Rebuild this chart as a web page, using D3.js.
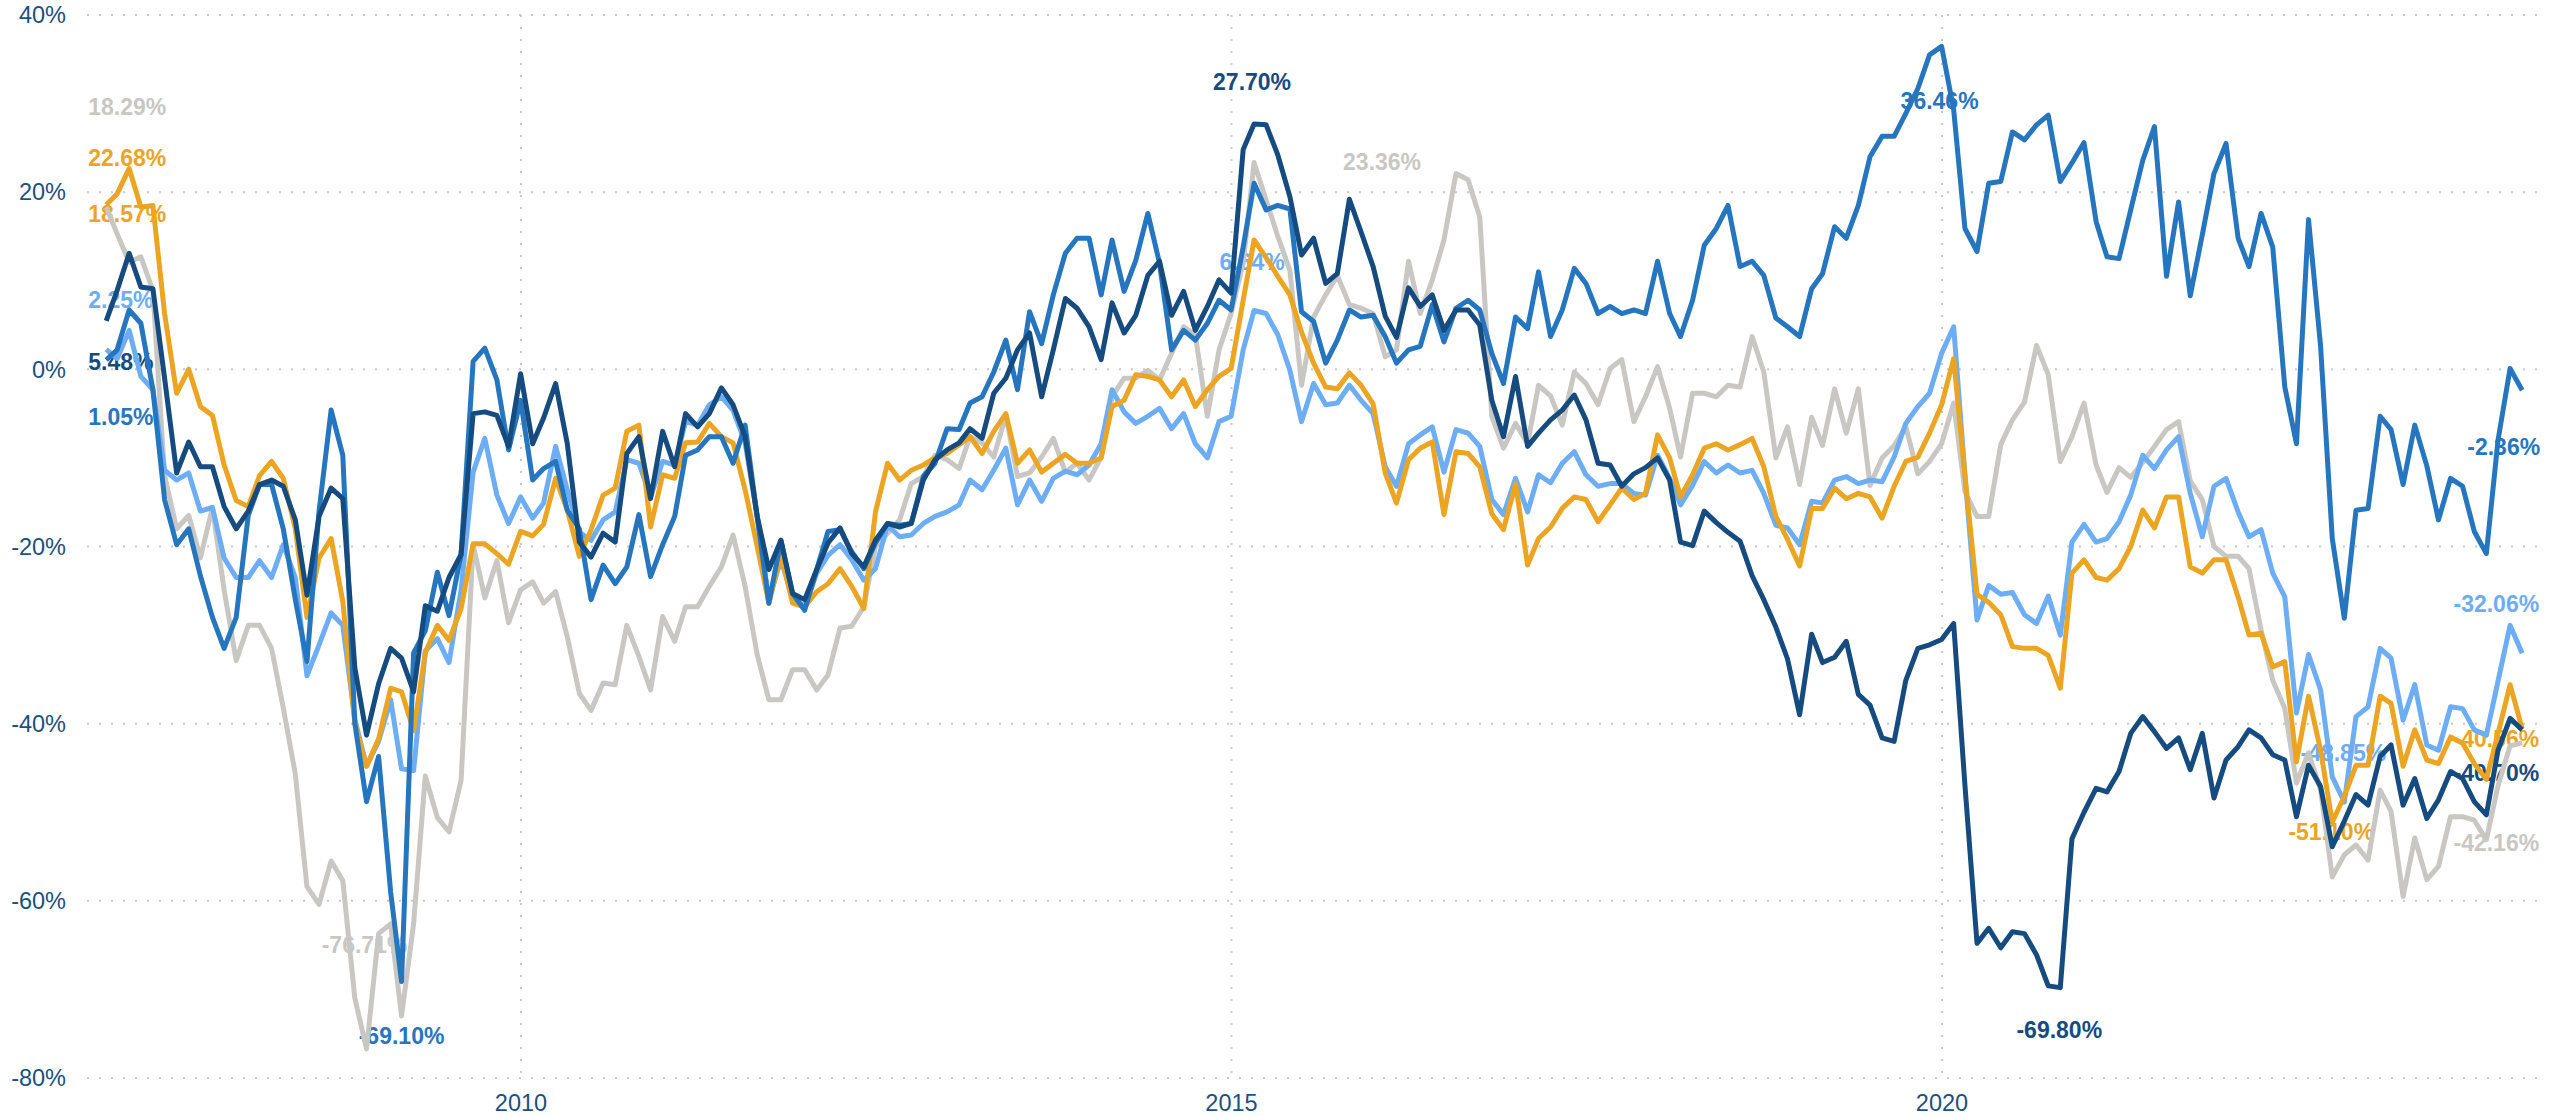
<!DOCTYPE html>
<html>
<head>
<meta charset="utf-8">
<script src="https://cdn.jsdelivr.net/npm/d3@7"></script>
<style>
  html, body { margin: 0; padding: 0; background: #fff; }
  svg text { font-family: "Liberation Sans", Arial, sans-serif; }
</style>
</head>
<body>
<svg id="chart" width="2562" height="1116"></svg>
<script>
// monthly values (%), one per month end, Jan 2007 .. Jan 2024
var firstMonth = new Date(2007, 0, 31);

var navy = [
  5.48, 8.9, 13.1, 9.3, 9.1, -1.0, -11.7, -8.2, -11.0, -11.0,
  -15.5, -18.0, -16.0, -13.0, -12.5, -13.2, -17.0, -25.5, -16.6, -13.4,
  -14.6, -33.7, -41.3, -35.5, -31.5, -32.6, -36.4, -26.7, -27.3, -23.5,
  -20.9, -5.0, -4.8, -5.2, -8.7, -0.5, -8.4, -5.5, -1.6, -8.4,
  -19.5, -21.2, -18.5, -19.5, -9.5, -7.6, -14.6, -7.0, -11.0, -5.0,
  -6.5, -5.0, -2.1, -4.0, -7.6, -16.6, -22.6, -19.3, -25.3, -26.0,
  -22.6, -19.6, -17.9, -20.8, -22.3, -19.3, -17.4, -17.8, -17.4, -12.5,
  -10.2, -9.1, -8.3, -6.7, -7.8, -2.7, -1.0, 2.2, 4.1, -3.1,
  2.2, 8.0, 6.9, 4.8, 1.1, 7.5, 4.1, 6.1, 10.6, 12.2,
  6.1, 8.8, 4.4, 7.1, 10.1, 8.6, 24.8, 27.7, 27.6, 24.2,
  19.5, 12.9, 14.8, 9.7, 10.8, 19.2, 15.5, 11.6, 6.0, 3.6,
  9.2, 7.1, 8.4, 4.4, 6.7, 6.7, 5.0, -3.5, -7.6, -0.8,
  -8.7, -7.2, -5.7, -4.6, -2.9, -5.7, -10.6, -10.8, -13.2, -11.8,
  -11.1, -10.0, -12.5, -19.5, -19.9, -16.0, -17.3, -18.4, -19.4, -23.3,
  -26.0, -29.1, -32.7, -39.0, -29.9, -33.1, -32.5, -30.7, -36.7, -37.9,
  -41.6, -42.0, -35.1, -31.5, -31.1, -30.5, -28.7, -47.0, -64.8, -63.1,
  -65.3, -63.5, -63.7, -66.1, -69.6, -69.8, -53.0, -50.0, -47.3, -47.7,
  -45.4, -41.1, -39.2, -40.9, -42.8, -41.6, -45.2, -41.1, -48.4, -44.1,
  -42.6, -40.7, -41.6, -43.5, -44.1, -50.5, -44.7, -47.1, -53.9, -51.0,
  -48.0, -49.2, -43.7, -42.4, -49.2, -46.2, -50.7, -48.6, -45.4, -46.2,
  -48.8, -50.3, -43.0, -39.4, -40.7
];

var blue = [
  1.05, 2.2, 6.7, 5.2, -2.3, -14.7, -19.8, -18.0, -23.3, -28.0,
  -31.5, -28.0, -16.5, -13.0, -13.0, -18.0, -26.0, -33.0, -16.0, -4.6,
  -9.7, -40.0, -48.8, -43.7, -59.0, -69.1, -32.0, -29.5, -22.9, -27.8,
  -20.9, 0.9, 2.4, -1.2, -9.1, -3.5, -12.5, -11.2, -10.4, -15.9,
  -18.0, -26.0, -22.1, -24.2, -22.3, -16.4, -23.4, -19.8, -16.6, -9.7,
  -9.1, -7.6, -7.6, -10.6, -6.3, -16.6, -26.4, -19.3, -25.3, -27.2,
  -22.6, -18.3, -18.1, -20.6, -22.5, -19.6, -17.4, -17.6, -17.4, -12.1,
  -10.6, -6.7, -6.8, -3.8, -3.1, -0.3, 3.3, -2.3, 6.5, 2.9,
  8.4, 13.1, 14.8, 14.8, 8.4, 14.6, 8.8, 12.3, 17.6, 12.0,
  2.2, 4.4, 3.3, 5.2, 7.8, 6.7, 13.8, 21.0, 18.0, 18.5,
  18.1, 6.5, 5.4, 0.7, 3.3, 6.7, 5.9, 6.1, 3.7, 0.7,
  2.2, 2.6, 7.3, 3.1, 6.9, 7.8, 6.7, 1.8, -1.6, 5.9,
  4.6, 11.0, 3.7, 6.7, 11.4, 9.7, 6.3, 7.1, 6.3, 6.7,
  6.3, 12.2, 6.3, 3.7, 7.8, 14.0, 15.9, 18.5, 11.6, 12.2,
  10.6, 5.8, 4.8, 3.7, 9.1, 10.8, 16.1, 14.8, 18.5, 24.0,
  26.3, 26.3, 28.9, 31.7, 35.5, 36.46, 29.3, 15.9, 13.3, 21.0,
  21.2, 26.8, 25.9, 27.6, 28.7, 21.2, 23.3, 25.6, 16.7, 12.7,
  12.5, 18.0, 23.6, 27.4, 10.5, 18.9, 8.3, 15.2, 22.1, 25.5,
  14.8, 11.6, 17.6, 13.8, -2.0, -8.4, 16.9, 2.6, -19.1, -28.1,
  -15.9, -15.7, -5.3, -6.8, -13.0, -6.3, -10.9, -17.0, -12.3, -13.2,
  -18.3, -20.8, -8.0, 0.1, -2.36
];

var lightBlue = [
  2.25, 1.2, 4.4, -0.8, -2.3, -11.4, -12.5, -11.7, -16.0, -15.6,
  -21.3, -23.5, -23.5, -21.6, -23.5, -19.8, -23.5, -34.6, -31.1, -27.5,
  -28.9, -39.5, -44.8, -42.0, -37.3, -45.1, -45.3, -31.8, -30.4, -33.1,
  -24.9, -11.6, -7.8, -14.2, -17.4, -14.4, -16.8, -15.1, -8.7, -13.6,
  -18.4, -19.3, -17.0, -16.1, -10.2, -10.6, -14.4, -10.4, -10.8, -5.9,
  -6.3, -4.0, -3.1, -4.6, -8.3, -16.6, -26.0, -21.5, -25.7, -26.8,
  -23.0, -21.0, -19.8, -21.5, -23.8, -22.5, -17.6, -18.9, -18.7, -17.4,
  -16.6, -16.1, -15.3, -12.5, -13.6, -11.4, -8.9, -15.3, -12.5, -14.9,
  -12.3, -11.5, -11.9, -10.8, -8.4, -2.3, -4.8, -6.1, -5.3, -4.4,
  -6.7, -5.0, -8.4, -10.0, -5.9, -5.3, 2.2, 6.64, 6.3, 3.9,
  -0.1, -5.9, -1.6, -4.0, -3.8, -1.8, -3.5, -5.0, -11.0, -13.2,
  -8.4, -7.4, -6.5, -11.6, -6.8, -7.2, -8.7, -14.7, -16.4, -12.3,
  -16.1, -11.9, -12.8, -10.6, -9.3, -11.9, -13.2, -12.9, -12.9, -14.0,
  -14.2, -9.7, -12.3, -15.3, -13.1, -10.4, -11.7, -10.8, -11.7, -11.4,
  -14.0, -17.6, -17.9, -19.8, -14.9, -15.1, -12.5, -12.1, -12.9, -12.5,
  -12.7, -9.9, -6.1, -4.2, -2.7, 1.8, 4.8, -12.0, -28.3, -24.4,
  -25.4, -25.2, -27.7, -28.7, -25.6, -30.0, -19.5, -17.5, -19.5, -19.1,
  -17.2, -14.2, -9.7, -11.2, -9.1, -7.6, -14.0, -18.9, -13.2, -12.3,
  -16.1, -18.9, -18.1, -23.0, -25.7, -38.8, -32.2, -36.2, -46.0, -48.85,
  -39.2, -38.1, -31.5, -32.6, -39.6, -35.6, -42.4, -43.0, -38.1, -38.3,
  -40.7, -41.3, -35.2, -28.9, -32.06
];

var orange = [
  18.57, 19.8, 22.68, 18.3, 18.5, 6.3, -2.7, 0.0, -4.2, -5.2,
  -10.8, -14.8, -15.5, -12.0, -10.4, -12.3, -18.0, -28.0, -21.3, -19.1,
  -26.2, -40.0, -44.8, -41.7, -36.0, -36.4, -40.8, -32.0, -28.9, -30.6,
  -27.0, -19.7, -19.7, -20.8, -22.0, -18.3, -18.8, -17.5, -12.3, -15.9,
  -21.1, -18.1, -14.2, -13.4, -7.0, -6.3, -17.8, -11.9, -12.3, -8.3,
  -8.2, -6.1, -7.6, -8.3, -13.6, -20.0, -26.4, -21.0, -26.4, -26.8,
  -25.1, -24.2, -22.5, -24.5, -27.0, -16.1, -10.6, -12.5, -11.4, -10.8,
  -10.0, -9.5, -8.5, -7.6, -9.5, -7.0, -5.0, -10.6, -9.1, -11.6,
  -10.6, -9.6, -10.6, -10.6, -10.0, -4.2, -3.5, -0.6, -0.8, -1.2,
  -3.1, -1.2, -4.2, -2.3, -0.8, 0.1, 7.8, 14.6, 12.6, 10.5,
  8.4, 4.2, 0.7, -2.0, -2.2, -0.4, -1.8, -3.9, -11.7, -15.1,
  -10.2, -8.9, -8.2, -16.4, -9.3, -9.5, -11.0, -16.3, -18.1, -12.9,
  -22.1, -19.1, -17.8, -15.7, -14.4, -14.7, -17.2, -15.3, -13.4, -14.7,
  -14.0, -7.4, -10.0, -14.4, -11.9, -8.9, -8.4, -9.1, -8.5, -7.8,
  -11.0, -16.6, -19.2, -22.2, -15.7, -15.7, -13.4, -14.6, -14.0, -14.4,
  -16.8, -13.2, -10.4, -9.9, -7.2, -4.0, 1.2, -12.0, -25.4, -26.3,
  -27.7, -31.3, -31.5, -31.5, -32.3, -36.0, -23.0, -21.5, -23.5, -23.8,
  -22.5, -20.0, -15.9, -17.9, -14.4, -14.4, -22.3, -23.0, -21.5, -21.5,
  -25.7, -30.0, -29.8, -33.6, -33.0, -44.3, -36.9, -43.0, -51.1, -48.2,
  -44.7, -44.7, -36.9, -37.7, -44.8, -40.7, -44.1, -44.5, -41.5, -42.2,
  -44.5, -46.3, -41.1, -35.6, -40.56
];

var gray = [
  18.29, 15.3, 12.1, 12.7, 8.9, -12.0, -18.0, -16.5, -21.3, -15.6,
  -24.9, -32.9, -28.9, -28.9, -31.5, -38.2, -45.7, -58.4, -60.4, -55.5,
  -57.7, -71.0, -76.71, -63.7, -62.6, -73.0, -62.6, -45.9, -50.6, -52.2,
  -46.4, -19.8, -25.8, -21.6, -28.6, -24.9, -24.0, -26.4, -25.1, -30.2,
  -36.6, -38.5, -35.4, -35.6, -28.9, -32.4, -36.2, -27.9, -30.7, -26.8,
  -26.8, -24.5, -22.3, -18.7, -24.5, -32.2, -37.3, -37.3, -33.9, -33.9,
  -36.2, -34.5, -29.2, -29.0, -26.8, -20.0, -18.5, -17.0, -12.9, -12.1,
  -9.7, -10.2, -11.2, -7.6, -8.3, -9.9, -5.2, -12.1, -11.7, -9.9,
  -7.8, -11.6, -10.6, -12.5, -9.9, -3.1, -1.0, -1.0, -0.1, -1.2,
  1.8, 4.8, 3.9, -5.3, 2.2, 6.3, 12.0, 23.36, 19.1, 15.0,
  11.2, -1.8, 5.9, 8.4, 10.6, 7.3, 6.9, 6.3, 1.4, 2.2,
  12.2, 6.3, 10.1, 14.6, 22.1, 21.4, 17.2, -5.3, -8.9, -6.1,
  -8.4, -1.8, -3.0, -6.3, -0.3, -1.6, -4.0, 0.1, 1.1, -5.9,
  -3.1, 0.3, -4.4, -9.9, -2.7, -2.7, -3.1, -1.8, -2.0, 3.7,
  -0.3, -10.0, -6.5, -13.0, -5.4, -8.6, -2.2, -7.2, -2.2, -13.1,
  -10.0, -8.6, -6.5, -11.8, -10.4, -8.4, -3.8, -13.8, -16.6, -16.6,
  -8.5, -5.7, -3.7, 2.7, -0.6, -10.4, -7.6, -3.8, -10.8, -13.9,
  -11.1, -12.2, -10.5, -8.7, -6.8, -5.9, -12.6, -14.7, -20.0, -21.1,
  -21.1, -22.5, -29.4, -35.1, -38.3, -46.7, -43.3, -47.5, -57.3, -54.8,
  -53.7, -55.4, -47.5, -49.9, -59.5, -52.9, -57.6, -56.1, -50.5, -50.5,
  -50.9, -53.1, -47.0, -42.5, -42.16
];

var yTicks = [-80, -60, -40, -20, 0, 20, 40];
var xTicks = [2010, 2015, 2020];

// drawing order: first one ends up at the bottom
var series = [
  {key: 'gray', values: gray, color: '#c9c7c3'},
  {key: 'lightBlue', values: lightBlue, color: '#6dadf3'},
  {key: 'orange', values: orange, color: '#eba522'},
  {key: 'blue', values: blue, color: '#2676bf'},
  {key: 'navy', values: navy, color: '#164b80'}
];

// which points get a value label, and how far the text sits from the point
var labelSpots = [
  {key: 'navy', at: 'first', dx: -18, dy: 41, anchor: 'start'},
  {key: 'blue', at: 'first', dx: -18, dy: 57, anchor: 'start'},
  {key: 'lightBlue', at: 'first', dx: -18, dy: -49, anchor: 'start'},
  {key: 'orange', at: 'first', dx: -18, dy: 9, anchor: 'start'},
  {key: 'gray', at: 'first', dx: -18, dy: -100, anchor: 'start'},
  {key: 'orange', at: 'max', dx: -2, dy: -10, anchor: 'middle'},
  {key: 'navy', at: 'max', dx: -2, dy: -42, anchor: 'middle'},
  {key: 'blue', at: 'max', dx: -2, dy: 55, anchor: 'middle'},
  {key: 'lightBlue', at: 'max', dx: -2, dy: -49, anchor: 'middle'},
  {key: 'gray', at: 'max', dx: 128, dy: 0, anchor: 'middle'},
  {key: 'navy', at: 'min', dx: -1, dy: 42, anchor: 'middle'},
  {key: 'blue', at: 'min', dx: 0, dy: 55, anchor: 'middle'},
  {key: 'lightBlue', at: 'min', dx: -1, dy: -49, anchor: 'middle'},
  {key: 'orange', at: 'min', dx: -1, dy: 10, anchor: 'middle'},
  {key: 'gray', at: 'min', dx: -2, dy: -104, anchor: 'middle'},
  {key: 'navy', at: 'last', dx: 17, dy: 43, anchor: 'end'},
  {key: 'blue', at: 'last', dx: 18, dy: 57, anchor: 'end'},
  {key: 'lightBlue', at: 'last', dx: 17, dy: -49, anchor: 'end'},
  {key: 'orange', at: 'last', dx: 17, dy: 10, anchor: 'end'},
  {key: 'gray', at: 'last', dx: 17, dy: 100, anchor: 'end'}
];

var my = {
  width: 2562,
  height: 1116,
  left: 87,
  right: 2537,
  axisColor: '#1d4f80',
  gridColor: '#c8c8c8'
};

var dates = d3.range(navy.length).map(function(i) {
  return new Date(firstMonth.getFullYear(), firstMonth.getMonth() + i + 1, 0);
});

var x = d3.scaleTime()
  .domain([new Date(2010, 0, 1), new Date(2020, 0, 1)])
  .range([521, 1942]);

var y = d3.scaleLinear()
  .domain([-80, 40])
  .range([1078, 15]);

var svg = d3.select('#chart');

svg.append('rect')
  .attr('width', my.width)
  .attr('height', my.height)
  .attr('fill', '#fff');

// dotted grid
var grid = svg.append('g').attr('class', 'grid');

grid.selectAll('line.h')
  .data(yTicks)
  .enter().append('line')
  .attr('class', 'h')
  .attr('x1', my.left)
  .attr('x2', my.right)
  .attr('y1', function(d) { return y(d); })
  .attr('y2', function(d) { return y(d); });

grid.selectAll('line.v')
  .data(xTicks)
  .enter().append('line')
  .attr('class', 'v')
  .attr('x1', function(d) { return x(new Date(d, 0, 1)); })
  .attr('x2', function(d) { return x(new Date(d, 0, 1)); })
  .attr('y1', y(40))
  .attr('y2', y(-80));

grid.selectAll('line')
  .attr('stroke', my.gridColor)
  .attr('stroke-width', 2)
  .attr('stroke-dasharray', '2,10');

// axis labels
svg.append('g')
  .selectAll('text')
  .data(yTicks)
  .enter().append('text')
  .attr('x', 66)
  .attr('y', function(d) { return y(d); })
  .attr('dy', '0.35em')
  .attr('text-anchor', 'end')
  .attr('font-size', '23.5px')
  .attr('fill', my.axisColor)
  .text(function(d) { return d + '%'; });

svg.append('g')
  .selectAll('text')
  .data(xTicks)
  .enter().append('text')
  .attr('x', function(d) { return x(new Date(d, 0, 1)); })
  .attr('y', 1111)
  .attr('text-anchor', 'middle')
  .attr('font-size', '23.5px')
  .attr('fill', my.axisColor)
  .text(function(d) { return d; });

// value labels go underneath the lines
function pickIndex(values, at) {
  if (at === 'first') return 0;
  if (at === 'last') return values.length - 1;
  if (at === 'max') return d3.maxIndex(values);
  return d3.minIndex(values);
}

var byKey = {};
series.forEach(function(s) { byKey[s.key] = s; });

svg.append('g')
  .selectAll('text')
  .data(labelSpots)
  .enter().append('text')
  .each(function(d) {
    var s = byKey[d.key];
    var i = pickIndex(s.values, d.at);
    d3.select(this)
      .attr('x', x(dates[i]) + d.dx)
      .attr('y', y(s.values[i]) + d.dy)
      .attr('dy', '0.35em')
      .attr('text-anchor', d.anchor)
      .attr('font-size', '23px')
      .attr('font-weight', 'bold')
      .attr('fill', s.color)
      .text(s.values[i].toFixed(2) + '%');
  });

var line = d3.line()
  .x(function(d, i) { return x(dates[i]); })
  .y(function(d) { return y(d); });

svg.append('g')
  .selectAll('path')
  .data(series)
  .enter().append('path')
  .attr('d', function(s) { return line(s.values); })
  .attr('fill', 'none')
  .attr('stroke', function(s) { return s.color; })
  .attr('stroke-width', 5)
  .attr('stroke-linejoin', 'round');
</script>
</body>
</html>
